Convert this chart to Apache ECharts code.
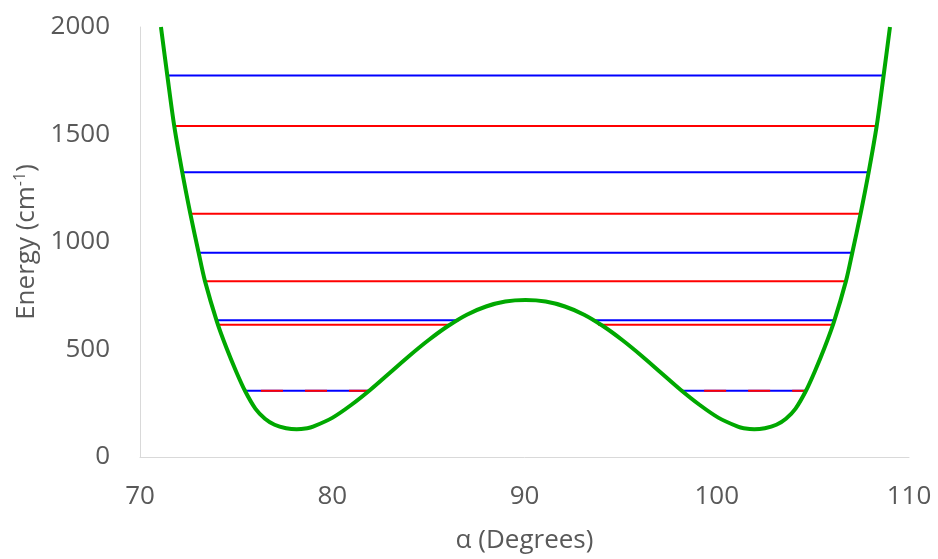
<!DOCTYPE html>
<html>
<head>
<meta charset="utf-8">
<script src="https://cdn.jsdelivr.net/npm/echarts@6/dist/echarts.min.js"></script>
<style>
html,body{margin:0;padding:0;background:#fff;}
#chart{width:938px;height:559px;}
</style>
</head>
<body>
<div id="chart"></div>
<script>
// Axis ticks
const xTicks = [70, 80, 90, 100, 110];
const yTicks = [0, 500, 1000, 1500, 2000];

// Potential energy curve (alpha in degrees, energy in cm^-1)
const curveX = [71.09, 71.42, 71.78, 72.2, 72.62, 73.05, 73.38, 74.0, 74.5, 75.0, 75.46, 76.0, 76.5, 77.0, 77.6, 78.15, 78.7, 79.0, 80.0, 81.0, 82.0, 83.0, 84.0, 85.0, 86.0, 87.0, 88.0, 89.0, 90.05,
                91.1, 92.1, 93.1, 94.1, 95.1, 96.1, 97.1, 98.1, 99.1, 100.1, 101.1, 101.4, 101.95, 102.5, 103.1, 103.6, 104.1, 104.64, 105.1, 105.6, 106.1, 106.72, 107.05, 107.48, 107.9, 108.32, 108.68, 109.01];
const curveE = [2000, 1775, 1540, 1324, 1131, 950, 818, 630, 507, 398, 308, 225, 178, 150, 134, 129, 134, 141, 182, 243, 314, 392, 470, 543, 608, 662, 700, 723, 730,
                723, 700, 662, 608, 543, 470, 392, 314, 243, 182, 141, 134, 129, 134, 150, 178, 225, 308, 398, 507, 630, 818, 950, 1131, 1324, 1540, 1775, 2000];

// Blue energy levels (segments)
const blueLevels = [1775, 1324, 950, 636, 636, 308, 308];
const blueStart  = [71.42, 72.20, 73.05, 73.99, 93.52, 75.46, 98.20];
const blueEnd    = [108.67, 107.89, 107.06, 86.60, 106.12, 81.91, 104.65];

// Red energy levels (segments)
const redLevels = [1540, 1131, 818, 615, 615];
const redStart  = [71.78, 72.62, 73.38, 74.04, 93.83];
const redEnd    = [108.29, 107.50, 106.72, 86.23, 106.07];

// Red dashed degenerate level (lowest)
const redDashLevels = [308, 308];
const redDashStart  = [75.46, 98.20];
const redDashEnd    = [81.91, 104.65];

const chart = echarts.init(document.getElementById('chart'), null, {renderer: 'canvas'});
const FONT = '"Open Sans", "Noto Sans", sans-serif';
const TXT = '#595959';

const series = [];
function seg(levels, s, e, color, dash, offsets) {
  levels.forEach((lv, i) => {
    series.push({
      type: 'line',
      data: [[s[i], lv], [e[i], lv]],
      symbol: 'none',
      silent: true,
      z: dash ? 3 : 2,
      lineStyle: {color: color, width: 2, type: dash ? [22, 22] : 'solid', dashOffset: offsets ? offsets[i] : 0}
    });
  });
}
seg(blueLevels, blueStart, blueEnd, '#0000ff', false);
seg(redLevels, redStart, redEnd, '#ff0000', false);
seg(redDashLevels, redDashStart, redDashEnd, '#ff0000', true, [28, 22]);

series.push({
  type: 'line',
  data: curveX.map((x, i) => [x, curveE[i]]),
  symbol: 'none',
  smooth: 0.3,
  z: 5,
  lineStyle: {color: '#00a800', width: 4}
});

chart.setOption({
  animation: false,
  backgroundColor: '#fff',
  grid: {left: 140, right: 29, top: 27, bottom: 97, containLabel: false},
  xAxis: {
    type: 'value', min: xTicks[0], max: xTicks[xTicks.length - 1], interval: 10,
    name: 'α (Degrees)', nameLocation: 'middle', nameGap: 71,
    nameTextStyle: {fontFamily: FONT, fontSize: 26, color: TXT},
    axisLine: {show: true, lineStyle: {color: '#d9d9d9', width: 1}},
    axisTick: {show: false},
    splitLine: {show: false},
    axisLabel: {fontFamily: FONT, fontSize: 26, color: TXT, margin: 27, formatter: v => String(v)}
  },
  yAxis: {
    type: 'value', min: yTicks[0], max: yTicks[yTicks.length - 1], interval: 500,
    name: 'Energy (cm{sup|-1})', nameLocation: 'middle', nameGap: 91, nameRotate: 90,
    nameTextStyle: {fontFamily: FONT, fontSize: 26, color: TXT,
      rich: {sup: {fontFamily: FONT, fontSize: 16, color: TXT, padding: [0, 0, 12, 0]}}},
    axisLine: {show: true, lineStyle: {color: '#d9d9d9', width: 1}},
    axisTick: {show: false},
    splitLine: {show: false},
    axisLabel: {fontFamily: FONT, fontSize: 26, color: TXT, margin: 30, formatter: v => String(v)}
  },
  series: series
});
</script>
</body>
</html>
